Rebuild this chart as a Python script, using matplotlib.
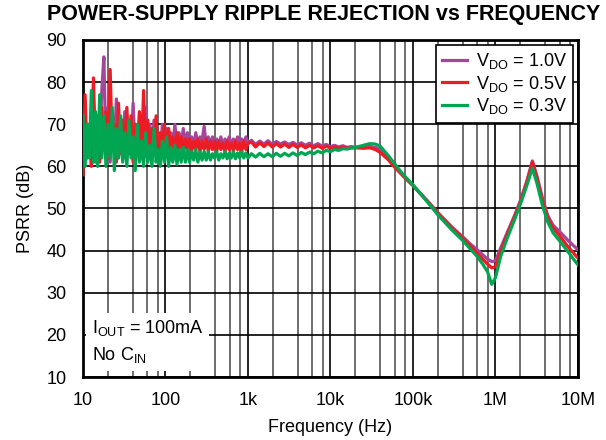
import numpy as np
import matplotlib.pyplot as plt

plt.rcParams['font.family'] = ['Liberation Sans', 'DejaVu Sans']
plt.rcParams['mathtext.default'] = 'regular'

# noisy low-frequency band: 10 Hz .. 1 kHz
f_low = np.geomspace(10, 1000, 80)
vdo10_low = [66, 72, 62, 70, 64, 75, 61, 71, 65, 78,
             86, 63, 74, 61, 72, 65, 76, 62, 70, 64,
             73, 62, 71, 64, 75, 63, 69, 65, 72, 63,
             74, 64, 70, 63, 71, 65, 68, 63, 70, 64,
             69, 64, 68, 65, 70, 64, 68, 65, 69, 65,
             68, 65, 67, 65, 68, 65, 67, 66, 69.5, 65,
             67, 65, 67, 65, 66.5, 65, 67, 65, 66.5, 65.5,
             67, 65, 66.5, 65.5, 67, 65, 66.5, 65.5, 67, 65.5]
vdo05_low = [58, 77, 62, 70, 60, 81, 63, 72, 61, 74,
             66, 73, 62, 83, 64, 70, 61, 75, 63, 71,
             62, 74, 63, 72, 61, 70, 64, 73, 62, 78,
             63, 71, 62, 69, 64, 72, 62, 68, 64, 70,
             63, 69, 64, 67, 63, 68, 64, 67, 63, 66.5,
             64, 66.5, 63.5, 66, 64, 66.5, 63.5, 66, 64, 66.5,
             63.5, 66, 64, 66, 63.5, 66, 64, 65.5, 63.5, 66,
             64, 65.5, 63.5, 66, 64, 65.5, 63.5, 66, 64, 65.5]
vdo03_low = [72, 60, 70, 62, 78, 61, 73, 60, 77, 62,
             72, 60, 70, 62, 74, 59, 69, 62, 72, 61,
             68, 60, 71, 62, 67, 59, 70, 61, 66, 60,
             68, 61, 65, 60, 69, 61, 64, 60, 66, 61,
             67, 60, 64.5, 61, 65, 60.5, 64, 61, 64.5, 61,
             64, 61, 63.5, 61.5, 64, 61, 63.5, 61.5, 63.5, 61.5,
             63.5, 61.5, 63, 62, 63.5, 61.5, 63, 62, 63.5, 61.8,
             63.2, 62, 63.5, 61.8, 63.2, 62, 63.5, 62, 63.2, 62]

# mid band: 1.1 kHz .. 20 kHz, small ripple
f_mid = np.geomspace(1.1e3, 2e4, 26)
vdo10_mid = [66.2, 65.2, 66.0, 65.3, 66.1, 65.2, 65.9, 65.3, 65.8, 65.2,
             65.7, 65.1, 65.6, 65.0, 65.5, 64.9, 65.4, 64.8, 65.2, 64.7,
             65.0, 64.6, 64.9, 64.5, 64.7, 64.5]
vdo05_mid = [65.8, 64.6, 65.6, 64.7, 65.5, 64.6, 65.4, 64.6, 65.3, 64.5,
             65.2, 64.5, 65.1, 64.4, 65.0, 64.4, 64.9, 64.3, 64.8, 64.3,
             64.6, 64.3, 64.5, 64.3, 64.4, 64.4]
vdo03_mid = [63.0, 62.2, 63.1, 62.3, 63.0, 62.3, 63.1, 62.4, 63.1, 62.5,
             63.2, 62.6, 63.3, 62.8, 63.4, 63.0, 63.6, 63.2, 63.8, 63.5,
             64.0, 63.8, 64.2, 64.1, 64.4, 64.5]

# high band: smooth roll-off, notch near 1 MHz, peak near 2.8 MHz
f_high = [25e3, 30e3, 35e3, 40e3, 50e3, 60e3, 75e3, 100e3, 150e3, 200e3,
          300e3, 400e3, 500e3, 600e3, 700e3, 800e3, 900e3, 1e6, 1.15e6, 1.4e6,
          1.7e6, 2e6, 2.4e6, 2.8e6, 3.2e6, 3.7e6, 4.3e6, 5e6, 6e6, 7.5e6, 10e6]
vdo10_high = [64.6, 64.7, 64.5, 64.0, 62.0, 60.2, 58.0, 55.5, 51.8, 49.0,
              45.5, 43.3, 41.5, 40.2, 39.0, 38.0, 37.4, 37.6, 40.5, 44.5,
              48.3, 51.8, 56.5, 61.3, 57.5, 52.5, 48.3, 46.0, 44.5, 42.5, 40.2]
vdo05_high = [64.3, 64.4, 64.0, 63.3, 61.6, 59.8, 57.8, 55.4, 51.7, 48.9,
              45.3, 43.0, 41.0, 39.4, 38.0, 36.8, 35.9, 36.2, 39.8, 44.0,
              48.0, 51.6, 56.3, 61.0, 57.0, 52.0, 47.8, 45.3, 43.5, 41.0, 38.2]
vdo03_high = [65.0, 65.4, 65.3, 64.8, 62.6, 60.6, 58.2, 55.6, 51.5, 48.5,
              44.8, 42.4, 40.3, 38.6, 36.8, 35.0, 32.0, 33.6, 38.5, 43.2,
              47.3, 51.0, 55.5, 59.6, 55.8, 50.8, 46.8, 44.2, 42.3, 39.8, 36.6]

freq = np.concatenate([f_low, f_mid, f_high])
series = [
    (r'V$_{DO}$ = 1.0V', '#a3479a', vdo10_low + vdo10_mid + vdo10_high),
    (r'V$_{DO}$ = 0.5V', '#ed1c24', vdo05_low + vdo05_mid + vdo05_high),
    (r'V$_{DO}$ = 0.3V', '#00a651', vdo03_low + vdo03_mid + vdo03_high),
]

fig = plt.figure(figsize=(6.06, 4.40), dpi=100)
ax = fig.add_axes([83 / 606, 63 / 440, 495 / 606, 337 / 440])

for label, color, vals in series:
    ax.plot(freq, vals, color=color, lw=2.3, label=label, zorder=3)

ax.set_xscale('log')
ax.set_xlim(10, 1e7)
ax.set_ylim(10, 90)
ax.set_yticks(range(10, 91, 10))
ax.set_xticks([1e1, 1e2, 1e3, 1e4, 1e5, 1e6, 1e7])
ax.set_xticklabels(['10', '100', '1k', '10k', '100k', '1M', '10M'])
# grid inside each decade only at 2, 4, 6, 8
ax.set_xticks([m * 10 ** d for d in range(1, 7) for m in (2, 4, 6, 8)], minor=True)
ax.set_xticklabels([], minor=True)
ax.set_axisbelow(True)
ax.grid(which='major', color='black', lw=1.2)
ax.grid(which='minor', axis='x', color='#6e6e6e', lw=1.4)
ax.tick_params(which='both', length=0, labelsize=13)
ax.tick_params(axis='x', pad=11)
ax.tick_params(axis='y', pad=12)
for s in ax.spines.values():
    s.set_linewidth(2)

ax.set_xlabel('Frequency (Hz)', fontsize=13, labelpad=7)
ax.set_ylabel('PSRR (dB)', fontsize=13, labelpad=9)
fig.text(0.534, 0.968, 'POWER-SUPPLY RIPPLE REJECTION vs FREQUENCY',
         ha='center', va='center', fontsize=15.5, fontweight='bold')

leg = ax.legend(loc='upper right', fontsize=13, fancybox=False, framealpha=1,
                edgecolor='black', handlelength=1.4, borderaxespad=0.25,
                labelspacing=0.15, handletextpad=0.5, borderpad=0.35)
leg.get_frame().set_linewidth(1.2)

ax.text(0.018, 0.035, 'I$_{OUT}$ = 100mA\nNo C$_{IN}$', transform=ax.transAxes,
        fontsize=13, va='bottom', ha='left', linespacing=1.45, zorder=5,
        bbox=dict(facecolor='white', edgecolor='none', pad=4))

fig.savefig('out.png', dpi=100)
